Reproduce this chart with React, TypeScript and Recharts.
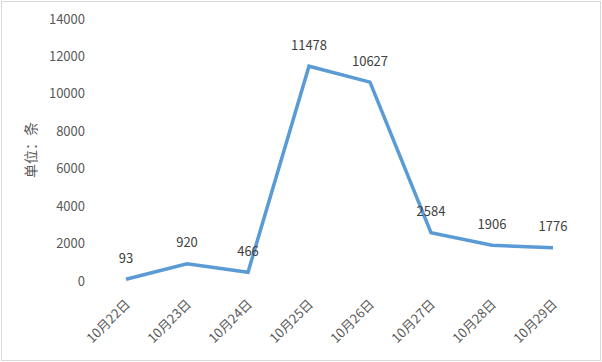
import React from 'react';
import { LineChart, Line, XAxis, YAxis, LabelList } from 'recharts';

const categories = ['10月22日', '10月23日', '10月24日', '10月25日', '10月26日', '10月27日', '10月28日', '10月29日'];
const values = [93, 920, 466, 11478, 10627, 2584, 1906, 1776];
const yTicks = [0, 2000, 4000, 6000, 8000, 10000, 12000, 14000];
const boundaryTicks = [0, 1, 2, 3, 4, 5, 6, 7, 8];
const yLabel = '单位：条';

const data = categories.map((c, i) => ({ name: c, value: values[i] }));

const FONT = '"Noto Sans CJK SC", "Noto Sans", sans-serif';

const XTick = (props: any) => {
  const { x, y, payload } = props;
  const ax = x + 5;
  const ay = y + 16;
  return (
    <text
      x={ax}
      y={ay}
      transform={`rotate(-45 ${ax} ${ay})`}
      textAnchor="end"
      fontSize={13}
      fontFamily={FONT}
      fill="#595959"
    >
      {payload.value}
    </text>
  );
};

const Empty = () => <g />;

const DataLabel = (props: any) => {
  const { x, y, value } = props;
  return (
    <text
      x={x}
      y={y - 22}
      textAnchor="middle"
      dominantBaseline="central"
      fontSize={13}
      fontFamily={FONT}
      fill="#404040"
    >
      {value}
    </text>
  );
};

const YLabel = (props: any) => {
  const { viewBox } = props;
  const cx = viewBox.x + 30;
  const cy = viewBox.y + viewBox.height / 2;
  return (
    <text
      x={cx}
      y={cy}
      transform={`rotate(-90 ${cx} ${cy})`}
      textAnchor="middle"
      dominantBaseline="central"
      fontSize={14}
      fontFamily={FONT}
      fill="#595959"
    >
      {yLabel}
    </text>
  );
};

export default function App() {
  return (
    <div style={{ position: 'absolute', left: 0, top: 0, width: 602, height: 362, background: '#fff' }}>
      <LineChart
        width={602}
        height={362}
        data={data}
        margin={{ top: 19, right: 19, left: 0, bottom: 0 }}
      >
        <XAxis
          xAxisId="b"
          type="number"
          dataKey="idx"
          domain={[0, 8]}
          ticks={boundaryTicks}
          allowDataOverflow
          height={0}
          tick={Empty}
          tickSize={6}
          axisLine={{ stroke: '#d9d9d9', strokeWidth: 1 }}
          tickLine={{ stroke: '#d9d9d9', strokeWidth: 1 }}
        />
        <XAxis
          xAxisId="c"
          dataKey="name"
          type="category"
          padding={{ left: 30, right: 30 }}
          height={81}
          interval={0}
          axisLine={false}
          tickLine={false}
          tick={<XTick />}
        />
        <YAxis
          width={96}
          domain={[0, 14000]}
          ticks={yTicks}
          interval={0}
          axisLine={false}
          tickLine={false}
          tickMargin={5}
          tick={{ fontSize: 13, fontFamily: FONT, fill: '#595959' }}
          label={<YLabel />}
        />
        <Line
          xAxisId="c"
          type="linear"
          dataKey="value"
          stroke="#5b9bd5"
          strokeWidth={3.5}
          dot={false}
          activeDot={false}
          isAnimationActive={false}
        >
          <LabelList dataKey="value" content={<DataLabel />} />
        </Line>
      </LineChart>
      <div
        style={{
          position: 'absolute',
          left: 1,
          top: 1,
          width: 600,
          height: 360,
          border: '1px solid #d9d9d9',
          boxSizing: 'border-box',
          pointerEvents: 'none',
        }}
      />
    </div>
  );
}
